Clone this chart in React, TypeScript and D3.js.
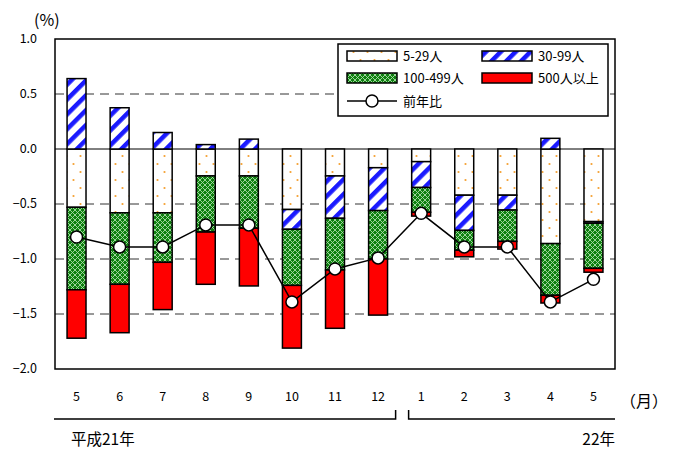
import * as d3 from 'd3';

const months = ['5', '6', '7', '8', '9', '10', '11', '12', '1', '2', '3', '4', '5'];
const seriesNames = ['5-29人', '30-99人', '100-499人', '500人以上'];
const s5to29 = [-0.53, -0.58, -0.58, -0.245, -0.245, -0.55, -0.245, -0.17, -0.115, -0.42, -0.42, -0.86, -0.66];
const s30to99 = [0.64, 0.375, 0.15, 0.04, 0.09, -0.18, -0.385, -0.39, -0.235, -0.32, -0.135, 0.097, -0.015];
const s100to499 = [-0.75, -0.65, -0.45, -0.51, -0.475, -0.51, -0.47, -0.44, -0.225, -0.18, -0.285, -0.47, -0.41];
const s500plus = [-0.44, -0.44, -0.43, -0.475, -0.525, -0.57, -0.53, -0.51, -0.035, -0.06, -0.07, -0.07, -0.035];
const yoy = [-0.8, -0.89, -0.89, -0.69, -0.69, -1.39, -1.09, -0.99, -0.585, -0.89, -0.89, -1.39, -1.185];
const yTicks = [1.0, 0.5, 0.0, -0.5, -1.0, -1.5, -2.0];
const gridTicks = [0.5, -0.5, -1.0, -1.5];

const FONT = '"Noto Sans CJK JP", "DejaVu Sans", sans-serif';
const fills = ['url(#dots)', 'url(#stripes)', 'url(#trellis)', '#ff0000'];

export default function App() {
  const width = 674;
  const height = 453;
  const left = 55;
  const right = 615;
  const top = 39;
  const bottom = 369;

  const x = d3
    .scaleBand<number>()
    .domain(d3.range(months.length))
    .range([left, right])
    .paddingInner(0.56)
    .paddingOuter(0.28);
  const y = d3.scaleLinear().domain([-2, 1]).range([bottom, top]);

  const rows = months.map((_, i) => ({
    a: s5to29[i],
    b: s30to99[i],
    c: s100to499[i],
    d: s500plus[i],
  }));
  const stacked = d3
    .stack<{ a: number; b: number; c: number; d: number }>()
    .keys(['a', 'b', 'c', 'd'])
    .offset(d3.stackOffsetDiverging)(rows);

  const cx = (i: number) => (x(i) ?? 0) + x.bandwidth() / 2;
  const line = d3
    .line<number>()
    .x((_, i) => cx(i))
    .y((d) => y(d));

  const fmt = (v: number) => (v < 0 ? '−' : '') + Math.abs(v).toFixed(1);

  // gap between 12月 and 1月
  const split = (x(7) ?? 0) + x.bandwidth() + (x.step() - x.bandwidth()) / 2;

  const legendRows = [
    { i: 0, lx: 347, ly: 56 },
    { i: 1, lx: 482, ly: 56 },
    { i: 2, lx: 347, ly: 78 },
    { i: 3, lx: 482, ly: 78 },
  ];

  return (
    <svg
      width={width}
      height={height}
      style={{ position: 'absolute', left: 0, top: 0, background: '#fff' }}
      fontFamily={FONT}
    >
      <defs>
        <pattern id="dots" width="14" height="16" patternUnits="userSpaceOnUse">
          <rect width="14" height="16" fill="#fff" />
          <circle cx="3.5" cy="4" r="1.1" fill="#f5a030" />
          <circle cx="10.5" cy="12" r="1.1" fill="#f5a030" />
        </pattern>
        <pattern id="stripes" width="10.5" height="10.5" patternUnits="userSpaceOnUse" patternTransform="rotate(45)">
          <rect width="10.5" height="10.5" fill="#fff" />
          <rect width="4.5" height="10.5" fill="#1a1aff" />
        </pattern>
        <pattern id="trellis" width="5" height="5" patternUnits="userSpaceOnUse">
          <rect width="5" height="5" fill="#0f800f" />
          <path d="M0,0 L5,5 M5,0 L0,5" stroke="#a8dca8" strokeWidth="0.9" />
        </pattern>
      </defs>

      <rect x={0} y={0} width={width} height={height} fill="#fff" />

      {/* grid */}
      {gridTicks.map((t) => (
        <line
          key={t}
          x1={left}
          x2={right}
          y1={y(t)}
          y2={y(t)}
          stroke="#333"
          strokeWidth={1}
          strokeDasharray="9,6"
        />
      ))}
      <line x1={left} x2={right} y1={y(0)} y2={y(0)} stroke="#000" strokeWidth={1} />

      {/* bars */}
      {stacked.map((s, si) => (
        <g key={si}>
          {s.map((d, i) => {
            const v = rows[i][s.key as 'a'];
            if (v === 0) return null;
            const y0 = y(Math.max(d[0], d[1]));
            const y1 = y(Math.min(d[0], d[1]));
            return (
              <rect
                key={i}
                x={x(i)}
                y={y0}
                width={x.bandwidth()}
                height={Math.max(0.5, y1 - y0)}
                fill={fills[si]}
                stroke="#000"
                strokeWidth={1.5}
              />
            );
          })}
        </g>
      ))}

      {/* year-on-year line */}
      <path d={line(yoy) ?? ''} fill="none" stroke="#000" strokeWidth={1.5} />
      {yoy.map((v, i) => (
        <circle key={i} cx={cx(i)} cy={y(v)} r={6} fill="#fff" stroke="#000" strokeWidth={1.5} />
      ))}

      {/* frame */}
      <rect x={left} y={top} width={right - left} height={bottom - top} fill="none" stroke="#000" strokeWidth={1.5} />

      {/* y axis labels */}
      {yTicks.map((t) => (
        <text key={t} x={37} y={y(t)} dy="0.35em" textAnchor="end" fontSize={12.5} fill="#000">
          {fmt(t)}
        </text>
      ))}
      <text x={34} y={26} fontSize={16} fill="#000">
        (%)
      </text>

      {/* legend */}
      <rect x={338} y={44} width={270} height={72} fill="#fff" stroke="#000" strokeWidth={1.5} />
      {legendRows.map(({ i, lx, ly }) => (
        <g key={i}>
          <rect x={lx} y={ly - 5} width={50} height={10} fill={fills[i]} stroke="#000" strokeWidth={1.5} />
          <text x={lx + 56} y={ly} dy="0.35em" fontSize={13} fill="#000">
            {seriesNames[i]}
          </text>
        </g>
      ))}
      <line x1={347} x2={397} y1={101} y2={101} stroke="#000" strokeWidth={1.5} />
      <circle cx={372} cy={101} r={6} fill="#fff" stroke="#000" strokeWidth={1.5} />
      <text x={403} y={101} dy="0.35em" fontSize={13} fill="#000">
        前年比
      </text>

      {/* x axis labels */}
      {months.map((m, i) => (
        <text key={i} x={cx(i)} y={397} dy="0.35em" textAnchor="middle" fontSize={12.5} fill="#000">
          {m}
        </text>
      ))}
      <text x={620} y={401} dy="0.35em" fontSize={16} fill="#000">
        （月）
      </text>

      {/* year brackets */}
      <path
        d={`M${left - 1},419 H${split - 4} V410`}
        fill="none"
        stroke="#000"
        strokeWidth={1.5}
      />
      <path d={`M${split + 9},410 V419 H${right}`} fill="none" stroke="#000" strokeWidth={1.5} />
      <text x={71} y={440} dy="0.35em" fontSize={15.5} fill="#000">
        平成21年
      </text>
      <text x={615} y={440} dy="0.35em" textAnchor="end" fontSize={15.5} fill="#000">
        22年
      </text>
    </svg>
  );
}
